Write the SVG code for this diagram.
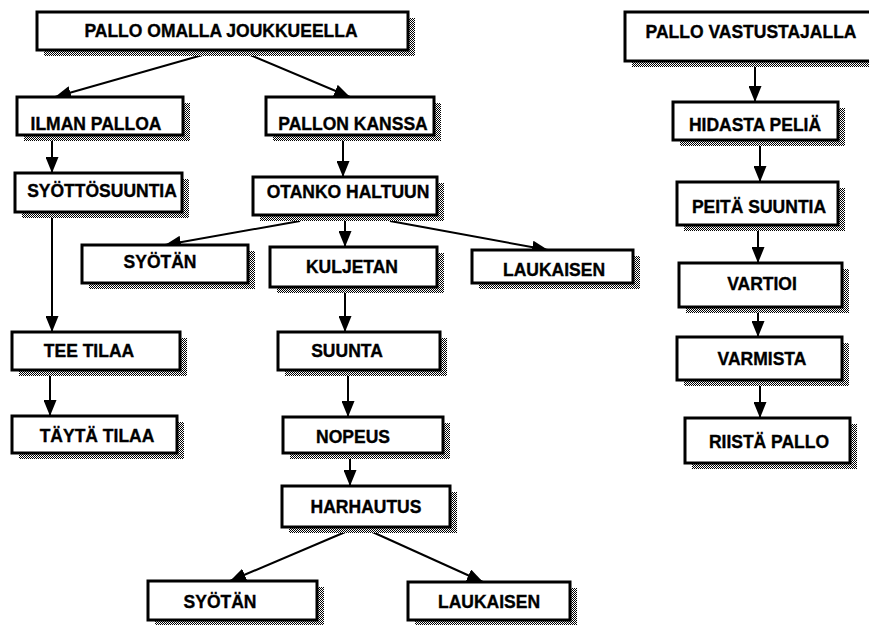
<svg xmlns="http://www.w3.org/2000/svg" width="869" height="625" viewBox="0 0 869 625">
<defs>
<pattern id="dither" width="2" height="2" patternUnits="userSpaceOnUse">
<rect width="2" height="2" fill="#ffffff"/>
<rect width="1" height="1" fill="#000000"/>
<rect x="1" y="1" width="1" height="1" fill="#000000"/>
</pattern>
<marker id="arr" viewBox="0 0 16 13" refX="16" refY="6.5" markerWidth="16" markerHeight="13" markerUnits="userSpaceOnUse" orient="auto">
<path d="M0,0 L16,6.5 L0,13 z" fill="#000"/>
</marker>
</defs>
<style>
.sh{fill:url(#dither);stroke:none}
.bx{fill:#fff;stroke:#000;stroke-width:3}
.t{font-family:"Liberation Sans",Arial,sans-serif;font-weight:bold;font-size:17.5px;fill:#000;stroke:#000;stroke-width:0.35;text-anchor:middle}
.c{stroke:#000;stroke-width:2;fill:none;marker-end:url(#arr)}
</style>
<rect width="869" height="625" fill="#fff"/>
<g id="connectors">
<line class="c" x1="220" y1="50" x2="55" y2="97"/>
<line class="c" x1="243" y1="52" x2="350" y2="97"/>
<line class="c" x1="52" y1="138" x2="52" y2="173"/>
<line class="c" x1="343" y1="138" x2="343" y2="177"/>
<line class="c" x1="52" y1="215" x2="52" y2="332"/>
<line class="c" x1="50" y1="373" x2="50" y2="416"/>
<line class="c" x1="300" y1="221" x2="165" y2="245"/>
<line class="c" x1="345" y1="218" x2="345" y2="247"/>
<line class="c" x1="390" y1="221" x2="548" y2="250"/>
<line class="c" x1="345" y1="290" x2="345" y2="332"/>
<line class="c" x1="348" y1="373" x2="348" y2="417"/>
<line class="c" x1="350" y1="456" x2="350" y2="486"/>
<line class="c" x1="350" y1="530" x2="230" y2="581"/>
<line class="c" x1="368" y1="530" x2="483" y2="582"/>
<line class="c" x1="755" y1="63" x2="755" y2="102"/>
<line class="c" x1="760" y1="143" x2="760" y2="182"/>
<line class="c" x1="758" y1="228" x2="758" y2="263"/>
<line class="c" x1="758" y1="310" x2="758" y2="337"/>
<line class="c" x1="760" y1="383" x2="760" y2="418"/>
</g>
<g id="n1"><rect class="sh" x="44" y="18" width="371" height="38"/><rect class="bx" x="37" y="12" width="371" height="38"/><text class="t" x="221" y="37">PALLO OMALLA JOUKKUEELLA</text></g>
<g id="n2"><rect class="sh" x="24" y="103" width="166" height="38"/><rect class="bx" x="17" y="97" width="166" height="38"/><text class="t" x="96" y="130">ILMAN PALLOA</text></g>
<g id="n3"><rect class="sh" x="273" y="103" width="168" height="38"/><rect class="bx" x="266" y="97" width="168" height="38"/><text class="t" x="353" y="130">PALLON KANSSA</text></g>
<g id="n4"><rect class="sh" x="22" y="179" width="167" height="39"/><rect class="bx" x="15" y="173" width="167" height="39"/><text class="t" x="102" y="197">SYÖTTÖSUUNTIA</text></g>
<g id="n5"><rect class="sh" x="260" y="183" width="184" height="38"/><rect class="bx" x="253" y="177" width="184" height="38"/><text class="t" x="348" y="198">OTANKO HALTUUN</text></g>
<g id="n6"><rect class="sh" x="89" y="251" width="166" height="38"/><rect class="bx" x="82" y="245" width="166" height="38"/><text class="t" x="160" y="268">SYÖTÄN</text></g>
<g id="n7"><rect class="sh" x="277" y="253" width="167" height="40"/><rect class="bx" x="270" y="247" width="167" height="40"/><text class="t" x="352" y="273">KULJETAN</text></g>
<g id="n8"><rect class="sh" x="479" y="256" width="161" height="33"/><rect class="bx" x="472" y="250" width="161" height="33"/><text class="t" x="554" y="276">LAUKAISEN</text></g>
<g id="n9"><rect class="sh" x="19" y="338" width="168" height="38"/><rect class="bx" x="12" y="332" width="168" height="38"/><text class="t" x="89" y="357">TEE TILAA</text></g>
<g id="n10"><rect class="sh" x="19" y="422" width="165" height="37"/><rect class="bx" x="12" y="416" width="165" height="37"/><text class="t" x="97" y="442">TÄYTÄ TILAA</text></g>
<g id="n11"><rect class="sh" x="285" y="338" width="162" height="38"/><rect class="bx" x="278" y="332" width="162" height="38"/><text class="t" x="347" y="357">SUUNTA</text></g>
<g id="n12"><rect class="sh" x="290" y="423" width="160" height="36"/><rect class="bx" x="283" y="417" width="160" height="36"/><text class="t" x="353" y="443">NOPEUS</text></g>
<g id="n13"><rect class="sh" x="289" y="492" width="168" height="41"/><rect class="bx" x="282" y="486" width="168" height="41"/><text class="t" x="366" y="513">HARHAUTUS</text></g>
<g id="n14"><rect class="sh" x="155" y="587" width="169" height="39"/><rect class="bx" x="148" y="581" width="169" height="39"/><text class="t" x="220" y="608">SYÖTÄN</text></g>
<g id="n15"><rect class="sh" x="415" y="588" width="162" height="38"/><rect class="bx" x="408" y="582" width="162" height="38"/><text class="t" x="489" y="608">LAUKAISEN</text></g>
<g id="n16"><rect class="sh" x="632" y="18" width="250" height="49"/><rect class="bx" x="625" y="12" width="250" height="49"/><text class="t" x="751" y="38">PALLO VASTUSTAJALLA</text></g>
<g id="n17"><rect class="sh" x="680" y="108" width="165" height="38"/><rect class="bx" x="673" y="102" width="165" height="38"/><text class="t" x="755" y="131">HIDASTA PELIÄ</text></g>
<g id="n18"><rect class="sh" x="684" y="188" width="161" height="43"/><rect class="bx" x="677" y="182" width="161" height="43"/><text class="t" x="759" y="213">PEITÄ SUUNTIA</text></g>
<g id="n19"><rect class="sh" x="686" y="269" width="163" height="44"/><rect class="bx" x="679" y="263" width="163" height="44"/><text class="t" x="762" y="290">VARTIOI</text></g>
<g id="n20"><rect class="sh" x="684" y="343" width="165" height="43"/><rect class="bx" x="677" y="337" width="165" height="43"/><text class="t" x="762" y="365">VARMISTA</text></g>
<g id="n21"><rect class="sh" x="692" y="424" width="165" height="45"/><rect class="bx" x="685" y="418" width="165" height="45"/><text class="t" x="769" y="448">RIISTÄ PALLO</text></g>
</svg>
